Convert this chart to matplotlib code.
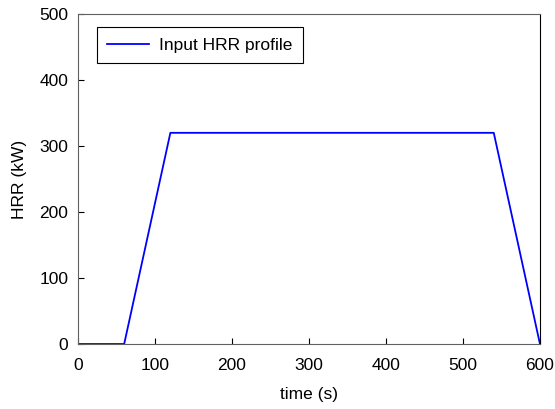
import matplotlib.pyplot as plt

plt.rcParams['font.family'] = ['Liberation Sans', 'DejaVu Sans']
plt.rcParams['font.size'] = 12.5

# HRR curve breakpoints
time_s = [0, 60, 120, 540, 600]
hrr_kw = [0, 0, 320, 320, 0]

fig = plt.figure(figsize=(5.55, 4.09), dpi=100)
ax = fig.add_axes([0.1405, 0.1589, 0.8324, 0.8068])
ax.plot(time_s, hrr_kw, color='blue', lw=1.3, label='Input HRR profile')

ax.set_xlim(0, 600)
ax.set_ylim(0, 500)
ax.set_xticks(range(0, 601, 100))
ax.set_yticks(range(0, 501, 100))
ax.tick_params(direction='in', length=4, width=0.8, top=False, right=False)
ax.tick_params(axis='x', pad=10)
ax.tick_params(axis='y', pad=7)
for s in ['left', 'bottom', 'top']:
    ax.spines[s].set_color('#606060')
ax.spines['right'].set_color('black')
for sp in ax.spines.values():
    sp.set_linewidth(0.8)

ax.set_xlabel('time (s)', labelpad=10)
ax.set_ylabel('HRR (kW)', labelpad=9)

leg = ax.legend(loc='upper left', bbox_to_anchor=(0.0411, 0.9606), borderaxespad=0,
                fancybox=False, edgecolor='black', framealpha=1, borderpad=0.6,
                handlelength=2.4, handletextpad=0.6)
leg.get_frame().set_linewidth(0.8)

fig.savefig('out.png', dpi=100)
